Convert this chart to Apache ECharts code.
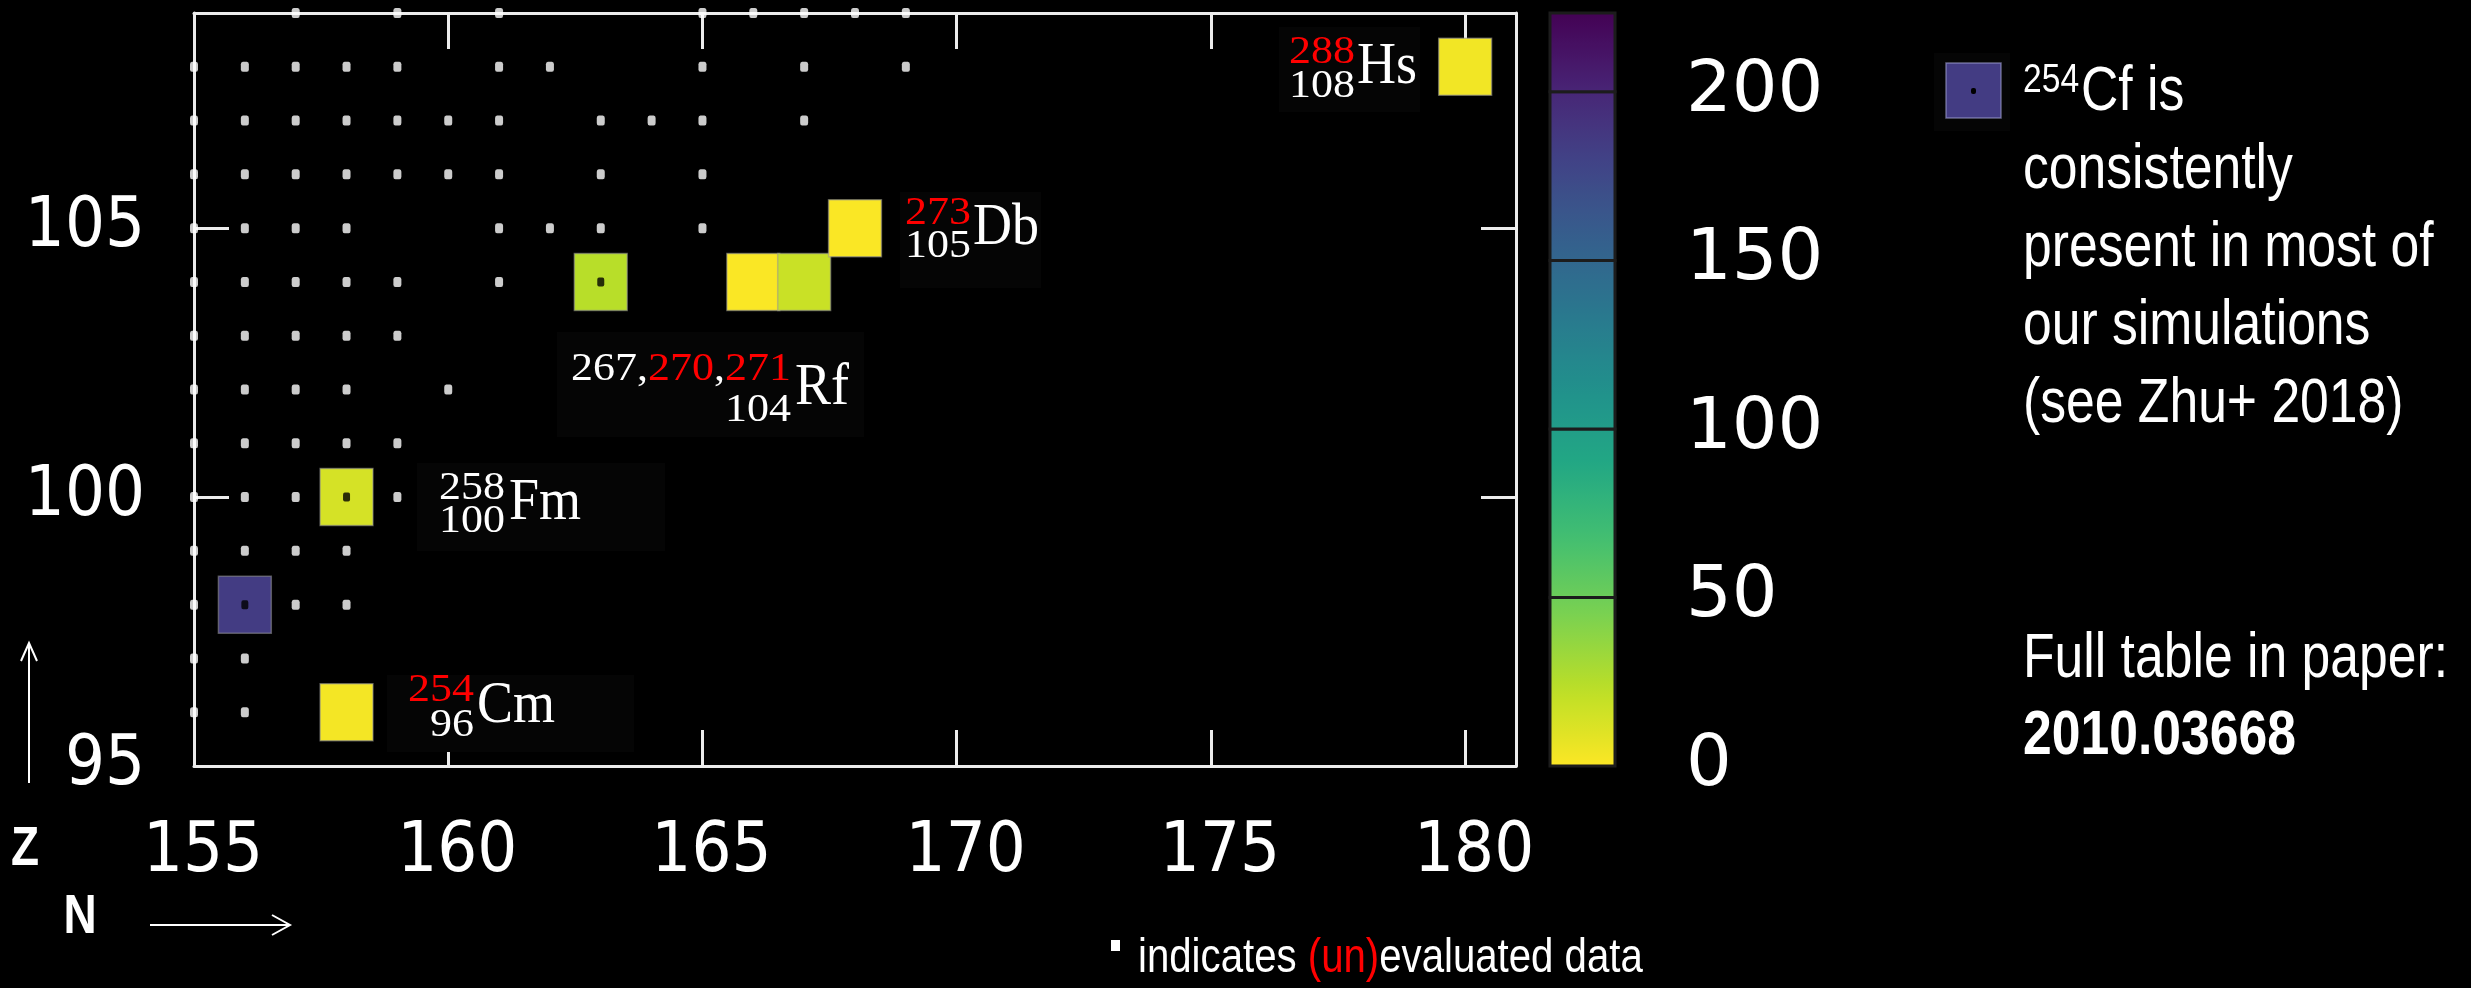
<!DOCTYPE html>
<html>
<head>
<meta charset="utf-8">
<script src="https://cdn.jsdelivr.net/npm/echarts@6/dist/echarts.min.js"></script>
<style>
html,body{margin:0;padding:0;background:#000;}
#chart{width:2471px;height:988px;}
</style>
</head>
<body>
<div id="chart"></div>
<script>
// ---------------- data ----------------
const xTickLabels = [155, 160, 165, 170, 175, 180];
const xTickMarks = [160, 165, 170, 175, 180];
const yTickLabels = [95, 100, 105];
const yTickMarks = [100, 105];
const colorbarTicks = [0, 50, 100, 150, 200];
const colorMax = 223.4;

// highlighted nuclides (N, Z, value shown by colour)
const nuclideN = [156, 158, 158, 163, 166, 167, 168, 180];
const nuclideZ = [98, 100, 96, 104, 104, 104, 105, 108];
const nuclideValue = [184, 14, 3, 24, 1, 18, 1, 4];

// (un)evaluated data markers: one list of N per row of Z
const evaluatedZ = [109, 108, 107, 106, 105, 104, 103, 102, 101, 100, 99, 98, 97, 96];
const evaluatedN = [
  [157, 159, 161, 165, 166, 167, 168, 169],
  [155, 156, 157, 158, 159, 161, 162, 165, 167, 169],
  [155, 156, 157, 158, 159, 160, 161, 163, 164, 165, 167],
  [155, 156, 157, 158, 159, 160, 161, 163, 165],
  [155, 156, 157, 158, 161, 162, 163, 165],
  [155, 156, 157, 158, 159, 161, 163],
  [155, 156, 157, 158, 159],
  [155, 156, 157, 158, 160],
  [155, 156, 157, 158, 159],
  [155, 156, 157, 158, 159],
  [155, 156, 157, 158],
  [155, 156, 157, 158],
  [155, 156],
  [155, 156]
];

const viridis = ['#440154', '#482475', '#414487', '#355f8d', '#2a788e', '#21918c',
                 '#22a884', '#44bf70', '#7ad151', '#bddf26', '#fde725'];

// ---------------- helpers ----------------
function hexToRgb(h) { return [1, 3, 5].map(i => parseInt(h.substr(i, 2), 16)); }
function viridisAt(t) {
  t = Math.max(0, Math.min(1, t));
  const p = t * (viridis.length - 1);
  const i = Math.min(Math.floor(p), viridis.length - 2);
  const f = p - i;
  const a = hexToRgb(viridis[i]), b = hexToRgb(viridis[i + 1]);
  const c = a.map((v, k) => Math.round(v + (b[k] - v) * f));
  return 'rgb(' + c.join(',') + ')';
}
function valueColor(v) { return viridisAt(1 - v / colorMax); }

const dotData = [];
evaluatedZ.forEach((z, r) => evaluatedN[r].forEach(n => dotData.push([n, z])));
const squareData = nuclideN.map((n, i) => [n, nuclideZ[i], nuclideValue[i]]);
const squareKey = new Set(nuclideN.map((n, i) => n + '_' + nuclideZ[i]));
const insideDots = dotData.filter(d => squareKey.has(d[0] + '_' + d[1]));

const bandEdges = colorbarTicks.concat([colorMax]);
const bandData = [];
for (let i = 0; i < bandEdges.length - 1; i++) bandData.push([bandEdges[i], bandEdges[i + 1]]);

// ---------------- chart ----------------
const chart = echarts.init(document.getElementById('chart'), null, {renderer: 'canvas'});
const axisColor = '#ececec';
const tickFont = '"DejaVu Sans Condensed", "DejaVu Sans", sans-serif';
const sans = '"Liberation Sans", Arial, sans-serif';
const NARROW = 0.82;
const serif = '"Liberation Serif", "DejaVu Serif", serif';
const boxFill = '#050505';

function txt(x, y, text, font, fill, align, sx, sy, rich) {
  const st = {text: text, font: font, fill: fill || '#ffffff',
    align: align || 'left', textAlign: align || 'left', verticalAlign: 'middle', textVerticalAlign: 'middle'};
  if (rich) st.rich = rich;
  return {type: 'text', z: 101, x: x, y: y, scaleX: sx || 1, scaleY: sy || 1, style: st};
}

function nucLabel(box, massParts, massRight, massMid, zText, zMid, sym, symLeft, symMid) {
  const numFont = '40px ' + serif;
  const rich = {w: {fill: '#ffffff', font: numFont}, r: {fill: '#ff0000', font: numFont}};
  return [
    {type: 'rect', z: 100, shape: {x: box[0], y: box[1], width: box[2], height: box[3]}, style: {fill: boxFill}},
    txt(massRight, massMid, massParts, numFont, '#fff', 'right', 1.1, 1, rich),
    txt(massRight, zMid, zText, numFont, '#fff', 'right', 1.1, 1),
    txt(symLeft, symMid, sym, '60px ' + serif, '#fff', 'left', 0.9, 1)
  ];
}

function arrow(points) {
  return {type: 'polyline', z: 101, shape: {points: points}, style: {stroke: '#fff', lineWidth: 2, fill: null}};
}

const noteRich = {
  w: {fill: '#ffffff', font: '49px ' + sans},
  r: {fill: '#ff0000', font: '49px ' + sans}
};

const graphics = []
  .concat(nucLabel([417, 463, 248, 88], '{w|258}', 505, 488, '100', 521, 'Fm', 509, 503))
  .concat(nucLabel([387, 675, 247, 77], '{r|254}', 474, 690, '96', 725, 'Cm', 477, 706))
  .concat(nucLabel([557, 332, 307, 105], '{w|267,}{r|270}{w|,}{r|271}', 791, 369, '104', 410, 'Rf', 795, 388))
  .concat(nucLabel([900, 192, 141, 96], '{r|273}', 971, 213, '105', 246, 'Db', 973, 228))
  .concat(nucLabel([1279, 27, 141, 85], '{r|288}', 1355, 52, '108', 86, 'Hs', 1357, 67))
  .concat([
    // axis letters and arrows
    txt(25, 850, 'Z', 'bold 56px ' + sans, '#fff', 'center', NARROW),
    txt(80, 918, 'N', 'bold 56px ' + sans, '#fff', 'center', NARROW),
    arrow([[29, 783], [29, 643]]),
    arrow([[21, 661], [29, 643], [37, 661]]),
    arrow([[150, 925], [290, 925]]),
    arrow([[272, 915], [290, 925], [272, 935]]),
    // bottom note
    {type: 'rect', z: 101, shape: {x: 1111, y: 940, width: 9, height: 11}, style: {fill: '#fff'}},
    txt(1138, 958, '{w|indicates }{r|(un)}{w|evaluated data}', '49px ' + sans, '#fff', 'left', NARROW, 1, noteRich),
    // legend box for 254Cf
    {type: 'rect', z: 100, shape: {x: 1934, y: 53, width: 76, height: 78}, style: {fill: boxFill}},
    {type: 'rect', z: 101, shape: {x: 1946, y: 63, width: 55, height: 55},
      style: {fill: valueColor(nuclideValue[0]), stroke: 'rgba(160,160,210,0.6)', lineWidth: 1.5}},
    {type: 'rect', z: 102, shape: {x: 1971, y: 88, width: 5, height: 6, r: 2}, style: {fill: '#000'}},
    txt(2023, 81, '254', '41px ' + sans, '#fff', 'left', NARROW),
    txt(2081, 93, 'Cf is', '63px ' + sans, '#fff', 'left', NARROW),
    txt(2023, 171, 'consistently', '63px ' + sans, '#fff', 'left', NARROW),
    txt(2023, 249, 'present in most of', '63px ' + sans, '#fff', 'left', NARROW),
    txt(2023, 327, 'our simulations', '63px ' + sans, '#fff', 'left', NARROW),
    txt(2023, 405, '(see Zhu+ 2018)', '63px ' + sans, '#fff', 'left', NARROW),
    txt(2023, 660, 'Full table in paper:', '63px ' + sans, '#fff', 'left', NARROW),
    txt(2023, 737, '2010.03668', 'bold 63px ' + sans, '#fff', 'left', NARROW)
  ]);

const frameAxis = {
  axisLine: {show: true, onZero: false, lineStyle: {color: axisColor, width: 3}},
  splitLine: {show: false}
};

const option = {
  backgroundColor: '#000000',
  animation: false,
  grid: [
    {left: 194, top: 13, width: 1322, height: 753, show: false},
    {left: 1550, top: 13, width: 65, height: 753, show: false}
  ],
  xAxis: [
    Object.assign({}, frameAxis, {
      gridIndex: 0, type: 'value', min: 155, max: 181, position: 'bottom',
      axisTick: {show: true, inside: true, length: 36, customValues: xTickMarks, lineStyle: {color: axisColor, width: 3}},
      axisLabel: {show: true, customValues: xTickLabels, color: '#ffffff', fontFamily: tickFont, fontSize: 70,
        margin: 87, verticalAlign: 'middle', padding: [0, 0, 0, 18]}
    }),
    Object.assign({}, frameAxis, {
      gridIndex: 0, type: 'value', min: 155, max: 181, position: 'top',
      axisTick: {show: true, inside: true, length: 36, customValues: xTickMarks, lineStyle: {color: axisColor, width: 3}},
      axisLabel: {show: false}
    }),
    {gridIndex: 1, type: 'value', min: 0, max: 1, show: false}
  ],
  yAxis: [
    Object.assign({}, frameAxis, {
      gridIndex: 0, type: 'value', min: 95, max: 109, position: 'left',
      axisTick: {show: true, inside: true, length: 35, customValues: yTickMarks, lineStyle: {color: axisColor, width: 3}},
      axisLabel: {show: true, customValues: yTickLabels, color: '#ffffff', fontFamily: tickFont, fontSize: 70, margin: 49}
    }),
    Object.assign({}, frameAxis, {
      gridIndex: 0, type: 'value', min: 95, max: 109, position: 'right',
      axisTick: {show: true, inside: true, length: 35, customValues: yTickMarks, lineStyle: {color: axisColor, width: 3}},
      axisLabel: {show: false}
    }),
    {gridIndex: 1, type: 'value', min: 0, max: colorMax, position: 'right',
      axisLine: {show: false}, axisTick: {show: false}, splitLine: {show: false},
      axisLabel: {show: true, customValues: colorbarTicks, color: '#ffffff', fontFamily: '"DejaVu Sans", sans-serif',
        fontSize: 72, margin: 71, align: 'left'}}
  ],
  visualMap: {
    type: 'continuous', show: false, min: 0, max: colorMax, dimension: 2, seriesIndex: 1,
    inRange: {color: viridis.slice().reverse()}
  },
  series: [
    {
      type: 'scatter', xAxisIndex: 0, yAxisIndex: 0, z: 2,
      symbol: 'roundRect', symbolSize: [8, 10],
      itemStyle: {color: '#ffffff'},
      data: dotData, silent: true
    },
    {
      type: 'custom', xAxisIndex: 0, yAxisIndex: 0, z: 3,
      data: squareData,
      renderItem: function (params, api) {
        const c = api.coord([api.value(0), api.value(1)]);
        const s = api.size([1, 1]);
        const w = s[0] * 1.04, h = s[1] * 1.06;
        return {
          type: 'rect',
          shape: {x: c[0] - w / 2, y: c[1] - h / 2, width: w, height: h},
          style: {fill: api.visual('color'), stroke: 'rgba(150,150,150,0.55)', lineWidth: 1.5}
        };
      }
    },
    {
      type: 'scatter', xAxisIndex: 0, yAxisIndex: 0, z: 4,
      symbol: 'roundRect', symbolSize: [7, 9],
      itemStyle: {color: '#000000'},
      data: insideDots, silent: true
    },
    {
      type: 'custom', xAxisIndex: 2, yAxisIndex: 2, z: 3,
      data: bandData,
      renderItem: function (params, api) {
        const lo = api.value(0), hi = api.value(1);
        const p0 = api.coord([0, lo]);
        const p1 = api.coord([1, hi]);
        const stops = [];
        for (let k = 0; k <= 10; k++) {
          stops.push({offset: k / 10, color: valueColor(lo + (hi - lo) * k / 10)});
        }
        return {
          type: 'rect',
          shape: {x: p0[0], y: p1[1], width: p1[0] - p0[0], height: p0[1] - p1[1]},
          style: {
            fill: {type: 'linear', x: 0, y: 1, x2: 0, y2: 0, colorStops: stops},
            stroke: '#1c1c1c', lineWidth: 3
          }
        };
      }
    }
  ],
  graphic: graphics
};

chart.setOption(option);
</script>
</body>
</html>
